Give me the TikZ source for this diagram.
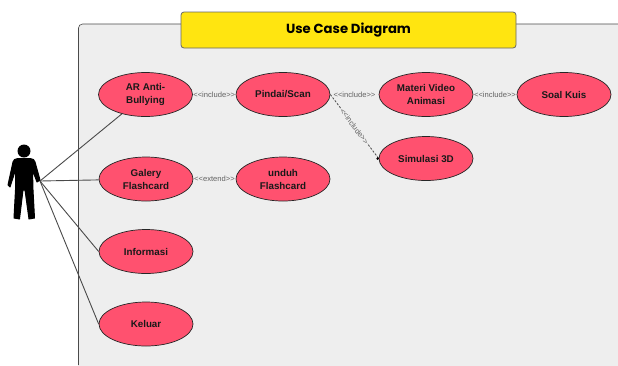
\documentclass[tikz,border=0pt]{standalone}
\usepackage{fontspec}
\setmainfont{Liberation Sans}
\newfontfamily\titlefont{Poppins}
\newfontfamily\relfont{Liberation Sans}
\usetikzlibrary{shapes.geometric}
\definecolor{fr}{HTML}{EEEEEE}
\definecolor{uc}{HTML}{FF516F}
\definecolor{tt}{HTML}{FFE510}
\definecolor{ln}{HTML}{4A4A4A}
\tikzset{
 ucase/.style={ellipse,draw=black!85,line width=.7pt,fill=uc,minimum width=94pt,minimum height=44pt,inner sep=0pt,align=center,font=\fontsize{9.8}{13}\selectfont\bfseries,text=black!90},
 assoc/.style={draw=ln,line width=.9pt},
 rel/.style={font=\relfont\fontsize{7.6}{9}\selectfont,text=black!62,inner sep=0pt},
 reldash/.style={draw=ln,line width=.8pt,dash pattern=on 2.2pt off 1.5pt},
}
\begin{document}
\begin{tikzpicture}[x=1pt,y=-1pt]
\useasboundingbox (0,0) rectangle (618,365);
\fill[white] (0,0) rectangle (618,365);
\path[fill=fr,rounded corners=4pt] (78.5,375) -- (78.5,24) -- (628,24) -- (628,375) -- cycle;
\draw[ln,line width=.6pt,rounded corners=4pt] (78.5,365) -- (78.5,24) -- (618,24);
\node[draw=black!60,line width=.8pt,fill=tt,rounded corners=3pt,minimum width=335pt,minimum height=36pt,inner sep=0pt,font=\titlefont\fontsize{13.2}{15}\selectfont\bfseries] (title) at (348.5,30) {Use Case Diagram};
% actor
\coordinate (hand) at (40,181);
\fill[black] (24,151) circle (6.5);
\path[fill=black,line join=round,draw=black,line width=1pt] (18,158.5) -- (30,158.5) .. controls (33,158.5) and (34.5,160) .. (35,162) -- (40,180) -- (37,182) -- (32.5,170) -- (33,190) -- (34.5,218) -- (29,219) -- (25,190) -- (23,190) -- (19.5,219) -- (14,218) -- (15.5,190) -- (15.5,170) -- (10,187) -- (8,185) -- (13,162) .. controls (13.5,160) and (15,158.5) .. (18,158.5) -- cycle;
% use cases
\node[ucase] (ar) at (145.5,94.5) {AR Anti-\\Bullying};
\node[ucase] (pindai) at (283,94.5) {Pindai/Scan};
\node[ucase] (materi) at (426,94.5) {Materi Video\\Animasi};
\node[ucase] (soal) at (564,94.5) {Soal Kuis};
\node[ucase] (sim) at (426,158.5) {Simulasi 3D};
\node[ucase] (galery) at (146,179) {Galery\\Flashcard};
\node[ucase] (unduh) at (283,179) {unduh\\Flashcard};
\node[ucase] (info) at (146,251.5) {Informasi};
\node[ucase] (keluar) at (146,324) {Keluar};
% associations
\draw[assoc] (hand) -- (ar);
\draw[assoc] (hand) -- (galery);
\draw[assoc] (hand) -- (info.west);
\draw[assoc] (hand) -- (keluar.west);
% relations
\path (ar) -- node[rel] {<{}<include>{}>} (pindai);
\path (galery) -- node[rel] {<{}<extend>{}>} (unduh);
\path (pindai) -- node[rel] {<{}<include>{}>} (materi);
\path (materi) -- node[rel] {<{}<include>{}>} (soal);
\draw[reldash] (pindai.east) -- (sim.west);
\fill[black] (sim.west) ++(-1,0) circle (1.4);
\path (pindai.east) -- node[rel,rotate=-53,fill=fr,inner sep=.5pt] {<{}<include>{}>} (sim.west);
\end{tikzpicture}
\end{document}
